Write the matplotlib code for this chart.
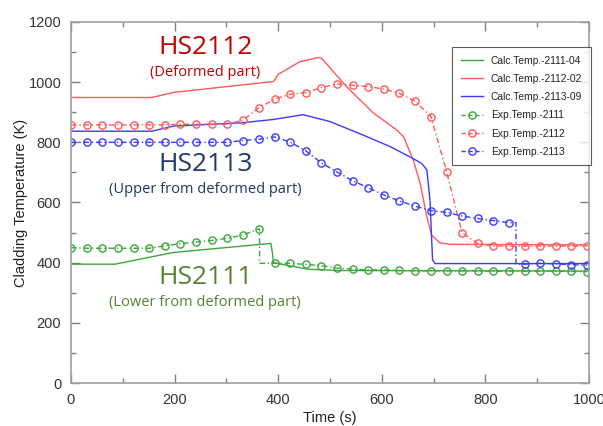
import matplotlib.pyplot as plt
from matplotlib.ticker import MultipleLocator

plt.rcParams["font.family"] = ["Liberation Sans", "DejaVu Sans"]

# calculated cladding temperatures (time s, temperature K)
calc_2111_t = [0, 85, 198, 386, 389, 391, 458, 520, 1000]
calc_2111_T = [395, 395, 434, 464, 430, 400, 378, 374, 372]
calc_2112_t = [0, 156, 198, 391, 400, 442, 477, 484, 532, 584, 629, 642, 661, 674, 687, 696, 712, 732, 1000]
calc_2112_T = [949, 949, 966, 1002, 1026, 1068, 1082, 1079, 985, 897, 841, 819, 740, 664, 553, 492, 466, 461, 459]
calc_2113_t = [0, 156, 198, 330, 391, 448, 500, 564, 616, 654, 677, 687, 693, 698, 703, 1000]
calc_2113_T = [837, 837, 854, 865, 876, 892, 869, 824, 786, 752, 730, 708, 608, 409, 397, 397]

# experiment points (every ~30 s)
exp_t = [0, 30, 60, 91, 121, 151, 181, 211, 242, 272, 302, 332, 362, 393, 423, 453, 483,
         513, 544, 574, 604, 634, 664, 695, 725, 755, 785, 815, 846, 876, 906, 936, 966, 996]
exp_2111 = [450, 448, 448, 448, 448, 448, 456, 463, 469, 474, 481, 492, 512, 398, 398, 394, 390,
            382, 379, 376, 376, 374, 373, 373, 373, 373, 373, 372, 372, 372, 372, 372, 371, 370]
exp_2112 = [858, 858, 858, 858, 858, 858, 858, 860, 860, 860, 860, 874, 914, 943, 960, 965, 982,
            994, 990, 985, 977, 963, 937, 885, 703, 499, 464, 455, 455, 455, 455, 455, 455, 455]
exp_2113 = [800, 800, 800, 800, 800, 800, 800, 800, 800, 800, 800, 806, 810, 818, 801, 772, 732,
            702, 672, 649, 625, 605, 588, 573, 567, 555, 547, 540, 533, 395, 398, 396, 393, 392]
# time where the measured curve steps down
step_2111 = 364
step_2113 = 859

fig = plt.figure(figsize=(6.03, 4.26), dpi=100)
ax = fig.add_axes([0.1177, 0.1009, 0.8591, 0.8475])

green = "#3aa83a"
red = "#ff5a5a"
blue = "#3b3bff"

ax.plot(calc_2111_t, calc_2111_T, color=green, lw=1.0, label="Calc.Temp.-2111-04")
ax.plot(calc_2112_t, calc_2112_T, color=red, lw=1.0, label="Calc.Temp.-2112-02")
ax.plot(calc_2113_t, calc_2113_T, color=blue, lw=1.0, label="Calc.Temp.-2113-09")


def exp_plot(t, T, color, label, step=None):
    lt, lT = list(t), list(T)
    if step is not None:
        i = next(k for k, v in enumerate(lt) if v > step)
        lt = lt[:i] + [step, step] + lt[i:]
        lT = lT[:i] + [lT[i - 1], lT[i]] + lT[i:]
    ax.plot(lt, lT, color=color, lw=1.0, linestyle=(0, (4, 2, 1, 2)))
    ax.plot(t, T, linestyle="none", marker="o", ms=5.2, mfc="none", mec=color, mew=1.0)
    ax.plot([], [], color=color, lw=1.0, linestyle=(0, (3, 2)), marker="o", ms=5.2,
            mfc="none", mec=color, mew=1.0, label=label)


exp_plot(exp_t, exp_2111, green, "Exp.Temp.-2111", step_2111)
exp_plot(exp_t, exp_2112, red, "Exp.Temp.-2112")
exp_plot(exp_t, exp_2113, blue, "Exp.Temp.-2113", step_2113)

ax.set_xlim(0, 1000)
ax.set_ylim(0, 1200)
ax.xaxis.set_major_locator(MultipleLocator(200))
ax.xaxis.set_minor_locator(MultipleLocator(100))
ax.yaxis.set_major_locator(MultipleLocator(200))
ax.yaxis.set_minor_locator(MultipleLocator(100))
ax.tick_params(which="both", direction="in", top=True, right=True, color="#808080",
               labelsize=10.5, labelcolor="#333333", pad=7)
ax.tick_params(which="major", length=6.5, width=1.0)
ax.tick_params(which="minor", length=3.8, width=1.0)
for s in ax.spines.values():
    s.set_color("#a0a0a0")
    s.set_linewidth(1.2)

ax.set_xlabel("Time (s)", fontsize=10.5, color="#222222", labelpad=3)
ax.set_ylabel("Cladding Temperature (K)", fontsize=10.5, color="#222222", labelpad=0)

font = "Open Sans"
ax.text(259, 1114, "HS2112", color="#c00000", fontsize=19, ha="center", va="center", family=font)
ax.text(259, 1031, "(Deformed part)", color="#c00000", fontsize=10.5, ha="center", va="center", family=font)
ax.text(259, 725, "HS2113", color="#1f3864", fontsize=19, ha="center", va="center", family=font)
ax.text(259, 642, "(Upper from deformed part)", color="#1f3864", fontsize=10.5, ha="center", va="center", family=font)
ax.text(259, 352, "HS2111", color="#548235", fontsize=19, ha="center", va="center", family=font)
ax.text(259, 269, "(Lower from deformed part)", color="#548235", fontsize=10.5, ha="center", va="center", family=font)

leg = ax.legend(loc="upper right", bbox_to_anchor=(1.004, 0.931), borderaxespad=0, fontsize=7.4,
                frameon=True, fancybox=False, edgecolor="#333333", handlelength=2.2,
                labelspacing=0.8, borderpad=0.85, handletextpad=0.75)
leg.get_frame().set_linewidth(0.8)
for t in leg.get_texts():
    t.set_color("#222222")

fig.savefig("out.png", dpi=100)
